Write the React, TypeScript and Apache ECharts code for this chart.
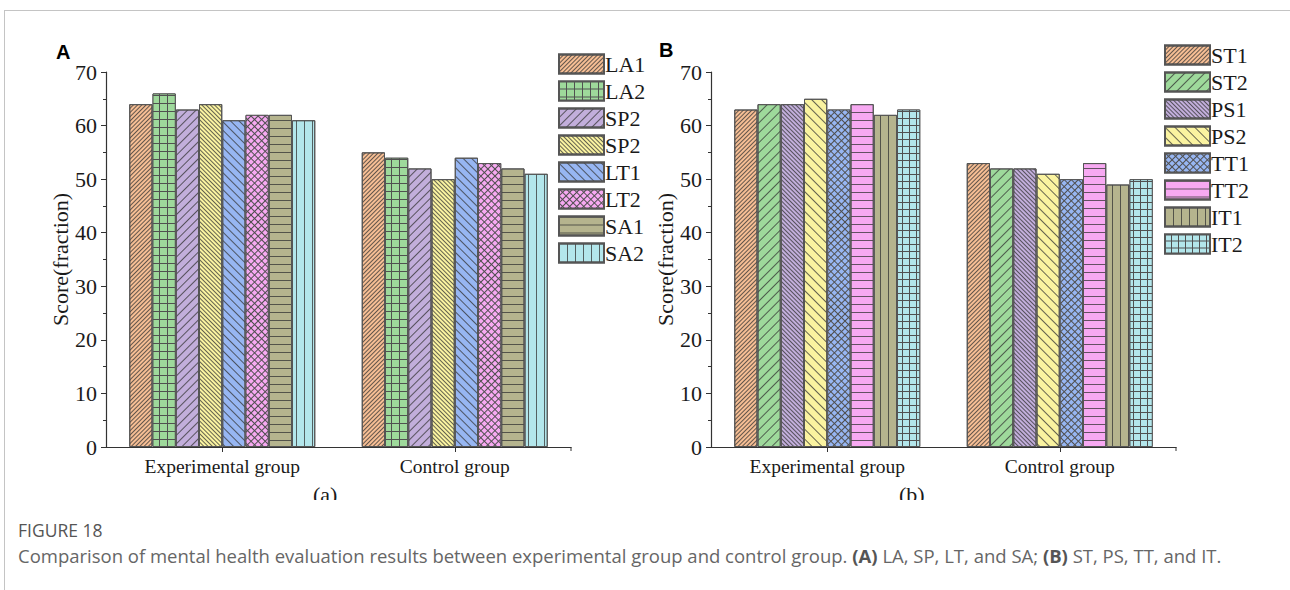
import React, { useEffect, useRef } from "react";
import * as echarts from "echarts";

const groups = ["Experimental group", "Control group"];
const yTicks = [0, 10, 20, 30, 40, 50, 60, 70];

const namesA = ["LA1", "LA2", "SP2", "SP2 ", "LT1", "LT2", "SA1", "SA2"];
const expA = [64, 66, 63, 64, 61, 62, 62, 61];
const ctlA = [55, 54, 52, 50, 54, 53, 52, 51];

const namesB = ["ST1", "ST2", "PS1", "PS2", "TT1", "TT2", "IT1", "IT2"];
const expB = [63, 64, 64, 65, 63, 64, 62, 63];
const ctlB = [53, 52, 52, 51, 50, 53, 49, 50];

const ORANGE = "#F6BE94";
const GREEN = "#9ED99B";
const PURPLE = "#C2AEDB";
const YELLOW = "#FAF3A0";
const BLUE = "#97B6F2";
const PINK = "#F7A9F2";
const OLIVE = "#B5B48E";
const CYAN = "#B3E6EB";
const LINE = "rgba(50,50,50,0.75)";
const DARK = "#505050";

// dir = 1 -> "/" ; dir = -1 -> "\"
const diag = (w: number, gap: number, dir: number) => ({
  symbol: "rect",
  symbolSize: 1,
  color: LINE,
  dashArrayX: [20, 0],
  dashArrayY: [w, gap],
  rotation: (-dir * Math.PI) / 4,
});
const hLines = (gap: number) => ({
  symbol: "rect",
  symbolSize: 1,
  color: LINE,
  dashArrayX: [20, 0],
  dashArrayY: [1, gap],
  rotation: 0,
});
const vLines = (gap: number) => ({
  symbol: "rect",
  symbolSize: 1,
  color: LINE,
  dashArrayX: [1, gap],
  dashArrayY: [20, 0],
  rotation: 0,
});
const cells = (fill: string, cell: number, rot: number) => ({
  symbol: "rect",
  symbolSize: 1,
  color: fill,
  dashArrayX: [cell, 1],
  dashArrayY: [cell, 1],
  rotation: rot,
});

const stylesA = [
  { c: ORANGE, d: diag(0.9, 1.6, 1) },
  { c: DARK, d: cells(GREEN, 6.5, 0) },
  { c: PURPLE, d: diag(1, 4.5, 1) },
  { c: YELLOW, d: diag(0.9, 1.6, -1) },
  { c: BLUE, d: diag(1, 5, -1) },
  { c: DARK, d: cells(PINK, 3.6, Math.PI / 4) },
  { c: OLIVE, d: hLines(6.3) },
  { c: CYAN, d: vLines(6.5) },
];
const stylesB = [
  { c: ORANGE, d: diag(0.9, 1.6, 1) },
  { c: GREEN, d: diag(1, 6, 1) },
  { c: PURPLE, d: diag(0.9, 2, -1) },
  { c: YELLOW, d: diag(1, 5.5, -1) },
  { c: DARK, d: cells(BLUE, 3.6, Math.PI / 4) },
  { c: PINK, d: hLines(6.3) },
  { c: OLIVE, d: vLines(6.5) },
  { c: DARK, d: cells(CYAN, 6, 0) },
];

const SERIF = "Liberation Serif";

function makeX(gridIndex: number) {
  return {
    type: "category",
    gridIndex,
    data: groups,
    boundaryGap: true,
    axisLine: { show: true, lineStyle: { color: "#333", width: 1.2 } },
    axisTick: { show: true, alignWithLabel: true, length: 5, lineStyle: { color: "#333" } },
    axisLabel: { color: "#1a1a1a", fontSize: 19.5, fontFamily: SERIF, margin: 9 },
  };
}
function makeY(gridIndex: number) {
  return {
    type: "value",
    gridIndex,
    min: yTicks[0],
    max: yTicks[yTicks.length - 1],
    interval: 10,
    name: "Score(fraction)",
    nameLocation: "middle",
    nameRotate: 90,
    nameGap: 35,
    nameTextStyle: { color: "#1a1a1a", fontSize: 22, fontFamily: SERIF },
    axisLine: { show: true, lineStyle: { color: "#333", width: 1.2 } },
    axisTick: { show: true, length: 5, lineStyle: { color: "#333" } },
    minorTick: { show: true, splitNumber: 2, length: 3, lineStyle: { color: "#333" } },
    splitLine: { show: false },
    axisLabel: { color: "#1a1a1a", fontSize: 22, fontFamily: SERIF, margin: 9 },
  };
}

function makeSeries(names: string[], exp: number[], ctl: number[], styles: any[], idx: number) {
  return names.map((n, i) => ({
    type: "bar",
    name: n,
    xAxisIndex: idx,
    yAxisIndex: idx,
    data: [exp[i], ctl[i]],
    barGap: "0%",
    barCategoryGap: "20%",
    itemStyle: {
      color: styles[i].c,
      borderColor: "#555",
      borderWidth: 1,
      decal: styles[i].d,
    },
  }));
}

function makeLegend(names: string[], left: number, top: number) {
  return {
    orient: "vertical",
    left,
    top,
    padding: 0,
    data: names,
    icon: "rect",
    itemWidth: 45,
    itemHeight: 19,
    itemGap: 5,
    selectedMode: false,
    formatter: (name: string) => name.trim(),
    textStyle: { color: "#1a1a1a", fontSize: 22, fontFamily: SERIF, padding: [0, 0, 0, -4] },
  };
}

export default function App() {
  const ref = useRef<HTMLDivElement>(null);
  useEffect(() => {
    const chart = echarts.init(ref.current!, undefined, { renderer: "svg" });
    chart.setOption({
      animation: false,
      backgroundColor: "#fff",
      grid: [
        { left: 106, top: 72, width: 465, height: 375 },
        { left: 711, top: 72, width: 465, height: 375 },
      ],
      xAxis: [makeX(0), makeX(1)],
      yAxis: [makeY(0), makeY(1)],
      legend: [makeLegend(namesA, 558, 53), makeLegend(namesB, 1164, 44)],
      series: [
        ...makeSeries(namesA, expA, ctlA, stylesA, 0),
        ...makeSeries(namesB, expB, ctlB, stylesB, 1),
      ],
      graphic: [
        { type: "line", shape: { x1: 571, y1: 447, x2: 571, y2: 451 }, style: { stroke: "#333", lineWidth: 1 } },
        { type: "line", shape: { x1: 1176, y1: 447, x2: 1176, y2: 451 }, style: { stroke: "#333", lineWidth: 1 } },
        { type: "text", left: 313, top: 483, style: { text: "(a)", fontSize: 22, fontFamily: SERIF, fill: "#1a1a1a" } },
        { type: "text", left: 899, top: 483, style: { text: "(b)", fontSize: 22, fontFamily: SERIF, fill: "#1a1a1a" } },
        { type: "rect", shape: { x: 100, y: 500, width: 1150, height: 20 }, style: { fill: "#fff" } },
        { type: "line", shape: { x1: 4, y1: 10.5, x2: 1290, y2: 10.5 }, style: { stroke: "#c4c4c4", lineWidth: 1 } },
        { type: "line", shape: { x1: 4.5, y1: 10, x2: 4.5, y2: 590 }, style: { stroke: "#c4c4c4", lineWidth: 1 } },
        { type: "text", left: 56, top: 42, style: { text: "A", fontSize: 20, fontWeight: "bold", fontFamily: "Liberation Sans", fill: "#000" } },
        { type: "text", left: 659, top: 40, style: { text: "B", fontSize: 20, fontWeight: "bold", fontFamily: "Liberation Sans", fill: "#000" } },
        { type: "text", left: 18, top: 521, style: { text: "FIGURE 18", fontSize: 17.5, fontFamily: "Open Sans", fill: "#555" } },
        {
          type: "text",
          left: 18,
          top: 546,
          style: {
            text: "Comparison of mental health evaluation results between experimental group and control group. {b|(A)} LA, SP, LT, and SA; {b|(B)} ST, PS, TT, and IT.",
            fontSize: 18.5,
            fontFamily: "Open Sans",
            fill: "#666",
            rich: { b: { fontSize: 18.5, fontFamily: "Open Sans", fontWeight: "bold", fill: "#555" } },
          },
        },
      ],
    });
    return () => chart.dispose();
  }, []);
  return (
    <div
      ref={ref}
      style={{ position: "fixed", left: 0, top: 0, width: 1290, height: 590, background: "#fff" }}
    />
  );
}
